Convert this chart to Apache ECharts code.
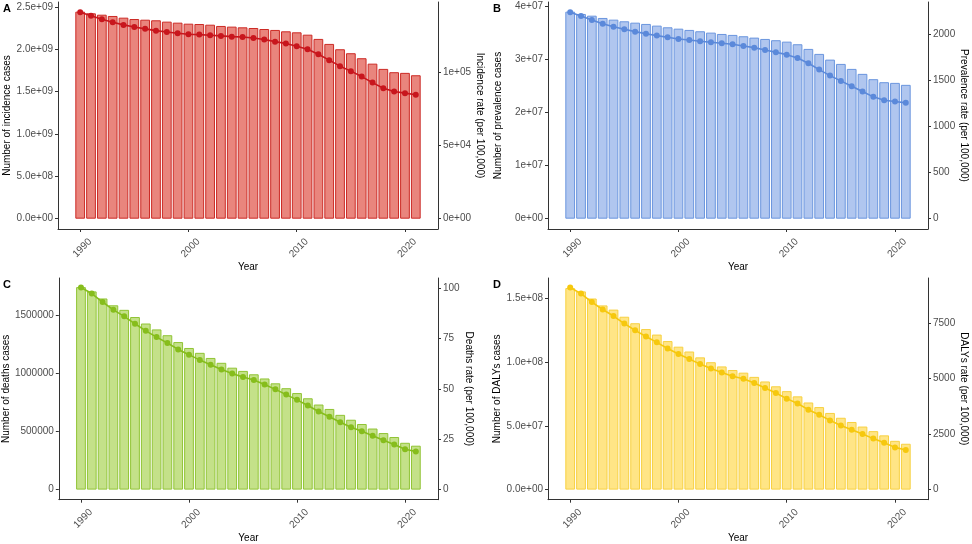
<!DOCTYPE html>
<html>
<head>
<meta charset="utf-8">
<script src="https://cdn.jsdelivr.net/npm/echarts@6/dist/echarts.min.js"></script>
<style>
html,body{margin:0;padding:0;background:#fff;}
#chart{width:972px;height:544px;}
</style>
</head>
<body>
<div id="chart"></div>
<script>
const years = [1990,1991,1992,1993,1994,1995,1996,1997,1998,1999,2000,2001,2002,2003,2004,2005,2006,2007,2008,2009,2010,2011,2012,2013,2014,2015,2016,2017,2018,2019,2020,2021];

const incidenceCases = [2.445e9,2.425e9,2.409e9,2.394e9,2.374e9,2.358e9,2.350e9,2.343e9,2.327e9,2.315e9,2.303e9,2.299e9,2.291e9,2.276e9,2.268e9,2.260e9,2.252e9,2.240e9,2.229e9,2.213e9,2.201e9,2.173e9,2.123e9,2.064e9,2.001e9,1.954e9,1.895e9,1.831e9,1.769e9,1.730e9,1.722e9,1.694e9];
const incidenceRate = [140600,138300,135800,133800,132000,130600,129300,128100,127200,126300,125600,125400,125000,124500,124000,123800,123100,122000,120600,119300,117500,115400,112000,108000,103900,100500,96800,92700,88900,86600,85500,84400];

const prevalenceCases = [3.906e7,3.862e7,3.830e7,3.787e7,3.755e7,3.724e7,3.698e7,3.674e7,3.642e7,3.611e7,3.585e7,3.561e7,3.536e7,3.510e7,3.485e7,3.467e7,3.442e7,3.416e7,3.391e7,3.367e7,3.340e7,3.291e7,3.203e7,3.109e7,3.001e7,2.920e7,2.826e7,2.732e7,2.632e7,2.575e7,2.562e7,2.525e7];
const prevalenceRate = [2234,2195,2151,2111,2079,2051,2025,2003,1982,1964,1946,1935,1921,1910,1899,1888,1870,1852,1827,1802,1776,1740,1683,1614,1549,1492,1434,1376,1319,1283,1268,1254];

const deathsCases = [1747000,1710000,1649000,1590000,1551000,1489000,1433000,1382000,1332000,1273000,1222000,1180000,1136000,1094000,1052000,1024000,995000,959000,917000,875000,833000,788000,734000,696000,645000,603000,566000,527000,488000,454000,404000,379000];
const deathsRate = [100.2,97.2,93.0,89.1,85.9,82.2,78.7,75.6,72.7,69.5,66.9,64.2,61.9,59.5,57.5,55.8,54.3,52.1,49.7,47.1,44.5,41.7,38.7,36.1,33.4,30.9,28.9,26.7,24.5,22.4,20.0,18.9];

const dalysCases = [1.582e8,1.556e8,1.500e8,1.446e8,1.413e8,1.357e8,1.306e8,1.260e8,1.217e8,1.166e8,1.122e8,1.084e8,1.038e8,1.000e8,0.967e8,0.939e8,0.918e8,0.885e8,0.849e8,0.811e8,0.773e8,0.732e8,0.684e8,0.648e8,0.602e8,0.564e8,0.531e8,0.495e8,0.459e8,0.426e8,0.383e8,0.360e8];
const dalysRate = [9110,8832,8450,8116,7821,7483,7176,6899,6635,6358,6108,5888,5655,5462,5273,5110,4996,4803,4583,4350,4100,3880,3603,3370,3120,2887,2694,2505,2298,2109,1903,1788];

const yearTicks = [1990,2000,2010,2020];
const yearTickLabels = ['1990','2000','2010','2020'];

const incCaseTicks = [0,5e8,1e9,1.5e9,2e9,2.5e9];
const incCaseLabels = ['0.0e+00','5.0e+08','1.0e+09','1.5e+09','2.0e+09','2.5e+09'];
const incRateTicks = [0,5e4,1e5];
const incRateLabels = ['0e+00','5e+04','1e+05'];

const prevCaseTicks = [0,1e7,2e7,3e7,4e7];
const prevCaseLabels = ['0e+00','1e+07','2e+07','3e+07','4e+07'];
const prevRateTicks = [0,500,1000,1500,2000];
const prevRateLabels = ['0','500','1000','1500','2000'];

const deathCaseTicks = [0,500000,1000000,1500000];
const deathCaseLabels = ['0','500000','1000000','1500000'];
const deathRateTicks = [0,25,50,75,100];
const deathRateLabels = ['0','25','50','75','100'];

const dalyCaseTicks = [0,5e7,1e8,1.5e8];
const dalyCaseLabels = ['0.0e+00','5.0e+07','1.0e+08','1.5e+08'];
const dalyRateTicks = [0,2500,5000,7500];
const dalyRateLabels = ['0','2500','5000','7500'];

const chart = echarts.init(document.getElementById('chart'), null, {renderer:'canvas'});

const FONT = 'Liberation Sans, Arial, sans-serif';
const AXIS_COLOR = '#333333';
const TICK_TEXT = '#4D4D4D';
const FS = 10;

const panels = [
  {letter:'A', left:58, top:2, cases:incidenceCases, rate:incidenceRate,
   caseMax:2.559e9, rateMax:1.476e5, caseTicks:incCaseTicks, caseLabels:incCaseLabels,
   rateTicks:incRateTicks, rateLabels:incRateLabels,
   caseName:'Number of incidence cases', rateName:'Incidence rate (per 100,000)',
   fill:'#E9857D', border:'#CC2A25', line:'#C8161D'},
  {letter:'B', left:548, top:2, cases:prevalenceCases, rate:prevalenceRate,
   caseMax:4.088e7, rateMax:2346, caseTicks:prevCaseTicks, caseLabels:prevCaseLabels,
   rateTicks:prevRateTicks, rateLabels:prevRateLabels,
   caseName:'Number of prevalence cases', rateName:'Prevalence rate (per 100,000)',
   fill:'#B0C6EF', border:'#6A95DE', line:'#5B89DA'},
  {letter:'C', left:58, top:278, cases:deathsCases, rate:deathsRate,
   caseMax:1.8256e6, rateMax:104.9, caseTicks:deathCaseTicks, caseLabels:deathCaseLabels,
   rateTicks:deathRateTicks, rateLabels:deathRateLabels,
   caseName:'Number of deaths cases', rateName:'Deaths rate (per 100,000)',
   fill:'#C4E189', border:'#90C434', line:'#86BD1C'},
  {letter:'D', left:548, top:278, cases:dalysCases, rate:dalysRate,
   caseMax:1.661e8, rateMax:9535, caseTicks:dalyCaseTicks, caseLabels:dalyCaseLabels,
   rateTicks:dalyRateTicks, rateLabels:dalyRateLabels,
   caseName:'Number of DALYs cases', rateName:"DALYs rate (per 100,000)",
   fill:'#FFE586', border:'#F7D040', line:'#F6C80E'}
];

const W = 380, H = 227;
const XMIN = 1987.95, XMAX = 2023.05;
const barW = W / (XMAX - XMIN) * 0.9;

const option = {
  animation:false,
  backgroundColor:'#ffffff',
  textStyle:{fontFamily:FONT},
  title:[], grid:[], xAxis:[], yAxis:[], series:[]
};

function labelFormatter(ticks, labels){
  return function(v){
    for (let i=0;i<ticks.length;i++){ if (Math.abs(ticks[i]-v) <= Math.abs(ticks[ticks.length-1])*1e-6 + 1e-9) return labels[i]; }
    return '';
  };
}

panels.forEach((p, i) => {
  option.title.push({text:p.letter, left:p.left-55, top:p.top+1, padding:0,
    textStyle:{fontSize:11, fontWeight:'bold', color:'#000', fontFamily:FONT}});
  option.grid.push({left:p.left, top:p.top, width:W, height:H, containLabel:false});
  option.xAxis.push({
    type:'value', gridIndex:i, min:XMIN, max:XMAX,
    name:'Year', nameLocation:'middle', nameGap:27,
    nameTextStyle:{fontSize:FS, color:'#000', fontFamily:FONT},
    axisLine:{show:true, onZero:false, lineStyle:{color:AXIS_COLOR, width:1}},
    axisTick:{show:true, length:3, customValues:yearTicks, lineStyle:{color:AXIS_COLOR}},
    axisLabel:{show:true, customValues:yearTicks, rotate:45, align:'center', verticalAlign:'middle',
      margin:21, padding:[0,0,0,6], fontSize:FS, color:TICK_TEXT, fontFamily:FONT,
      formatter:labelFormatter(yearTicks, yearTickLabels)},
    splitLine:{show:false}
  });
  const caseMin = -p.caseMax/21;
  const rateMin = -p.rateMax/21;
  option.yAxis.push({
    type:'value', gridIndex:i, position:'left', min:caseMin, max:p.caseMax,
    name:p.caseName, nameLocation:'middle', nameGap:45, nameRotate:90,
    nameTextStyle:{fontSize:FS, color:'#000', fontFamily:FONT},
    axisLine:{show:true, onZero:false, lineStyle:{color:AXIS_COLOR, width:1}},
    axisTick:{show:true, length:3, customValues:p.caseTicks, lineStyle:{color:AXIS_COLOR}},
    axisLabel:{show:true, customValues:p.caseTicks, margin:5, fontSize:FS, color:TICK_TEXT, fontFamily:FONT,
      formatter:labelFormatter(p.caseTicks, p.caseLabels)},
    splitLine:{show:false}
  });
  option.yAxis.push({
    type:'value', gridIndex:i, position:'right', min:rateMin, max:p.rateMax,
    name:p.rateName, nameLocation:'middle', nameGap:22, nameRotate:-90,
    nameTextStyle:{fontSize:FS, color:'#000', fontFamily:FONT},
    axisLine:{show:true, onZero:false, lineStyle:{color:AXIS_COLOR, width:1}},
    axisTick:{show:true, length:3, customValues:p.rateTicks, lineStyle:{color:AXIS_COLOR}},
    axisLabel:{show:true, customValues:p.rateTicks, margin:5, fontSize:FS, color:TICK_TEXT, fontFamily:FONT,
      formatter:labelFormatter(p.rateTicks, p.rateLabels)},
    splitLine:{show:false}
  });
  option.series.push({
    type:'bar', xAxisIndex:i, yAxisIndex:2*i,
    data: years.map((y,k)=>[y, p.cases[k]]),
    barWidth:barW,
    itemStyle:{color:p.fill, borderColor:p.border, borderWidth:1},
    silent:true
  });
  option.series.push({
    type:'line', xAxisIndex:i, yAxisIndex:2*i+1,
    data: years.map((y,k)=>[y, p.rate[k]]),
    symbol:'circle', symbolSize:6, showSymbol:true,
    lineStyle:{color:p.line, width:1.6},
    itemStyle:{color:p.line},
    silent:true, z:5
  });
});

chart.setOption(option);
</script>
</body>
</html>
